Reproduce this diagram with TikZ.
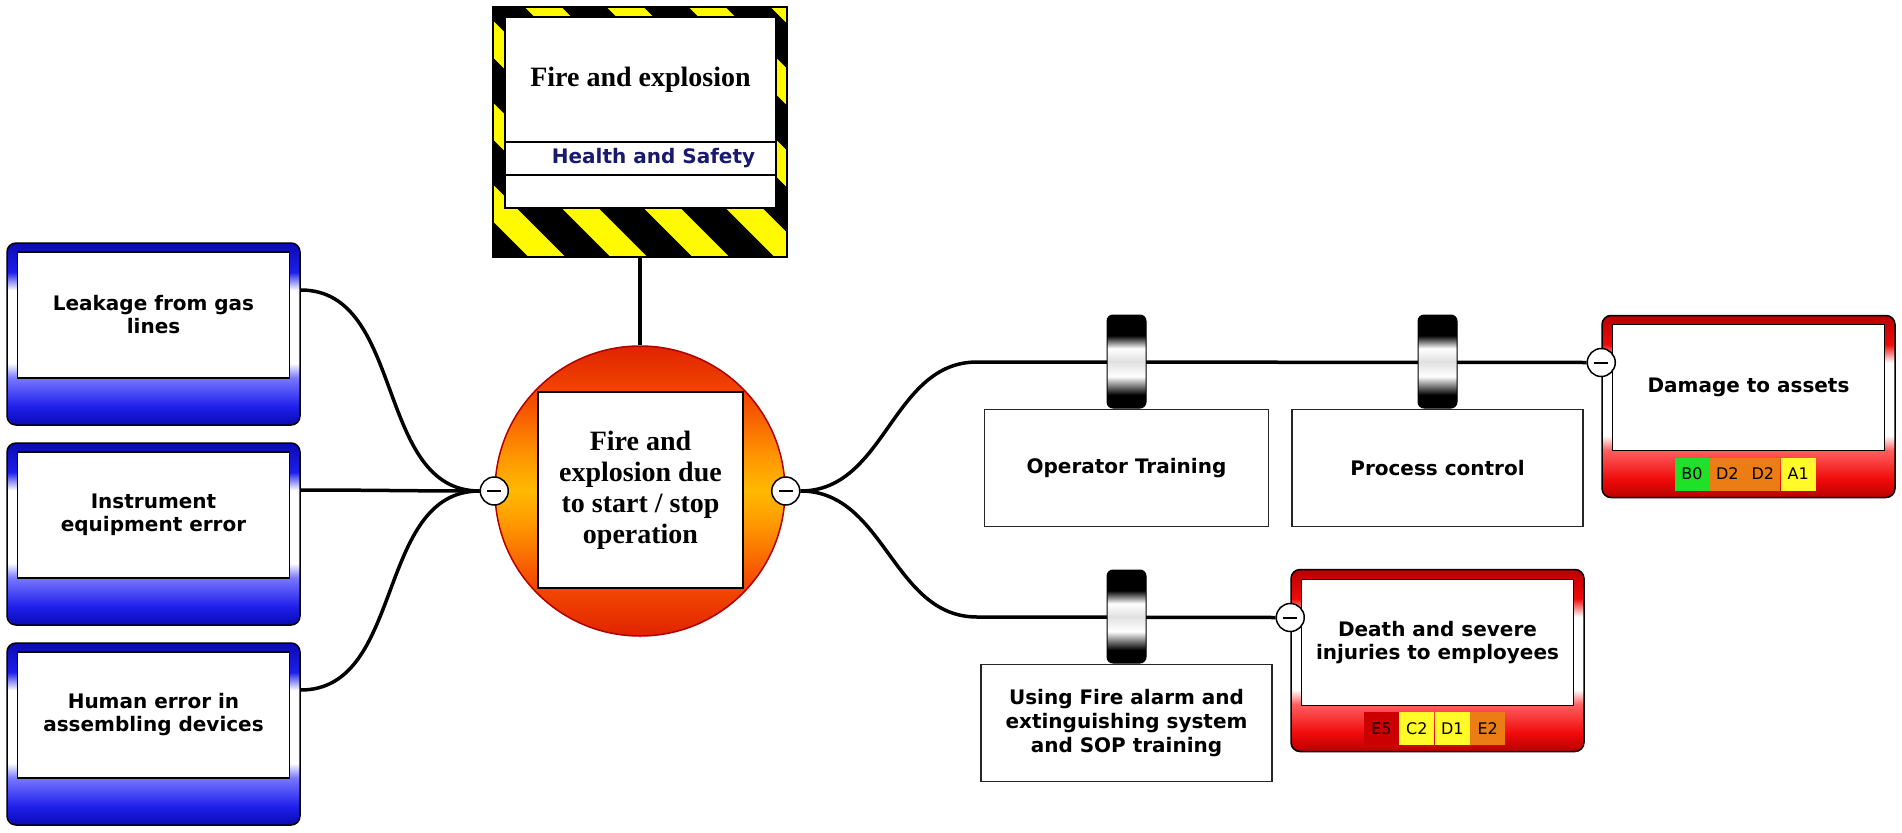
\documentclass[tikz,border=0pt]{standalone}
\usepackage{fontspec}
\usepackage{tikz}
\usetikzlibrary{positioning}

\newfontfamily\labelfont{DejaVu Sans}
\newfontfamily\headfont{Liberation Serif}

\definecolor{hsnavy}{RGB}{25,25,110}
\definecolor{tapeyellow}{RGB}{255,250,0}
\definecolor{rkgreen}{RGB}{30,225,40}
\definecolor{rkorange}{RGB}{235,125,20}
\definecolor{rkyellow}{RGB}{255,250,40}
\definecolor{rkred}{RGB}{205,0,0}
\definecolor{bxdark}{RGB}{10,10,180}
\definecolor{bxmid}{RGB}{30,30,235}
\definecolor{bxlight}{RGB}{120,120,255}
\definecolor{rxdark}{RGB}{185,0,0}
\definecolor{rxmid}{RGB}{240,10,10}
\definecolor{rxlight}{RGB}{255,95,95}
\definecolor{fbred}{RGB}{225,35,0}
\definecolor{fbmid}{RGB}{245,80,0}
\definecolor{fborange}{RGB}{255,150,0}
\definecolor{fbyellow}{RGB}{255,185,0}

\pgfdeclareverticalshading{bluebox}{100bp}{color(0bp)=(bxdark); color(25bp)=(bxdark);
  color(30bp)=(bxmid); color(38bp)=(bxlight); color(42bp)=(white); color(62bp)=(white);
  color(67bp)=(bxmid); color(75bp)=(bxdark); color(100bp)=(bxdark)}
\pgfdeclareverticalshading{redbox}{100bp}{color(0bp)=(rxdark); color(25bp)=(rxdark);
  color(30bp)=(rxmid); color(38bp)=(rxlight); color(42bp)=(white); color(62bp)=(white);
  color(67bp)=(rxmid); color(75bp)=(rxdark); color(100bp)=(rxdark)}
\pgfdeclareverticalshading{fireball}{100bp}{color(0bp)=(fbred); color(25bp)=(fbred);
  color(35bp)=(fbmid); color(44bp)=(fborange); color(50bp)=(fbyellow); color(56bp)=(fborange);
  color(65bp)=(fbmid); color(75bp)=(fbred); color(100bp)=(fbred)}
\pgfdeclareverticalshading{ringshade}{100bp}{color(0bp)=(black); color(32bp)=(black);
  color(42bp)=(white); color(50bp)=(black!12); color(57bp)=(white);
  color(64bp)=(black); color(100bp)=(black)}

\pgfdeclarelayer{background}
\pgfsetlayers{background,main}

\tikzset{
  link/.style={line width=3.5pt, black},
  cardbg/.style={rectangle, rounded corners=9pt, draw=black, line width=1.5pt,
    minimum width=293pt, minimum height=182pt, inner sep=0pt, shade, shading=bluebox},
  conseqbg/.style={cardbg, shading=redbox},
  cardtext/.style={rectangle, draw=black, line width=1.5pt, fill=white,
    minimum width=272pt, minimum height=126pt, inner sep=0pt, align=center,
    font=\labelfont\bfseries\fontsize{20}{23}\selectfont},
  ctrlbox/.style={rectangle, draw=black!85, line width=1.5pt, fill=white,
    minimum width=291pt, minimum height=117pt, inner sep=0pt, align=center,
    font=\labelfont\bfseries\fontsize{20}{24}\selectfont},
  barrier/.style={rectangle, rounded corners=6pt, draw=black, line width=1pt,
    minimum width=39pt, minimum height=93pt, inner sep=0pt, shade, shading=ringshade},
  minusknob/.style={circle, draw=black, fill=white, line width=1.5pt,
    minimum size=28pt, inner sep=0pt,
    path picture={\draw[line width=2pt] ([xshift=-7pt]path picture bounding box.center)
      -- ([xshift=7pt]path picture bounding box.center);}},
  badge/.style={rectangle, minimum width=35pt, minimum height=33pt, inner sep=0pt,
    font=\labelfont\fontsize{16}{16}\selectfont},
  hzcell/.style={rectangle, fill=white, draw=black, line width=1.2pt,
    minimum width=271pt, inner sep=0pt},
}

\begin{document}
\begin{tikzpicture}[x=1pt, y=1pt]
    \useasboundingbox (0,0) rectangle (1902,-832);

    % Hazard sign
    \node[rectangle, fill=black, minimum width=294pt, minimum height=250pt, inner sep=0pt] (hazard) at (640,-132) {};
    \begin{scope}
      \clip (hazard.south west) rectangle (hazard.north east);
      \foreach \k in {-3,...,5}
        \draw[tapeyellow, line width=26pt] (322+82*\k,50) -- ++(400,-400);
    \end{scope}
    \draw[line width=1.5pt] (hazard.south west) rectangle (hazard.north east);
    \node[hzcell, minimum height=125pt, font=\headfont\bfseries\fontsize{28}{31}\selectfont] (hazT) at (640.5,-79.5) {Fire and explosion};
    \node[hzcell, minimum height=33pt, text=hsnavy, font=\labelfont\bfseries\fontsize{20}{23}\selectfont] (hzband) at (640.5,-158.5) {\hspace*{26pt}Health and Safety};
    \node[hzcell, minimum height=33pt] (hzfoot) at (640.5,-191.5) {};

    % Top event
    \node[circle, minimum size=290pt, inner sep=0pt, draw=red!70!black, line width=1.5pt, shade, shading=fireball] (event) at (640,-491) {};
    \node[rectangle, fill=white, draw=black, line width=1.5pt, minimum width=205pt, minimum height=196pt, inner sep=0pt, align=center,
      font=\headfont\bfseries\fontsize{28}{31}\selectfont] (eventT) at (640.5,-490) {Fire and\\explosion due\\to start / stop\\operation};
    \node[minusknob] (mL) at (event.west) {};
    \node[minusknob] (mR) at (event.east) {};

    % Threats
    \foreach \n/\y/\txt in {1/-334/{Leakage from gas\\lines}, 2/-534/{Instrument\\equipment error}, 3/-734/{Human error in\\assembling devices}} {
      \node[cardbg] (cause\n) at (153.5,\y) {};
      \node[cardtext] (cause\n txt) at ([yshift=19pt]cause\n.center) {\txt};
    }

    % Consequences
    \node[conseqbg] (dmg) at (1748.5,-406.5) {};
    \node[cardtext] (dmgtxt) at ([yshift=19pt]dmg.center) {Damage to assets};
    \node[minusknob] (mD) at ([yshift=44pt]dmg.west) {};
    \node[conseqbg] (inj) at (1437.5,-660.5) {};
    \node[cardtext] (injtxt) at ([yshift=18pt]inj.center) {Death and severe\\injuries to employees};
    \node[minusknob] (mI) at ([yshift=43pt]inj.west) {};

    % Risk ratings
    \node[badge, fill=rkgreen] (b1) at (1692,-474) {B0};
    \node[badge, fill=rkorange, right=0pt of b1] (b2) {D2};
    \node[badge, fill=rkorange, right=0pt of b2] (b3) {D2};
    \node[badge, fill=rkyellow, right=0pt of b3] (b4) {A1};
    \node[badge, fill=rkred] (e1) at (1381.5,-728.5) {E5};
    \node[badge, fill=rkyellow, right=0pt of e1] (e2) {C2};
    \node[badge, fill=rkyellow, right=0pt of e2] (e3) {D1};
    \node[badge, fill=rkorange, right=0pt of e3] (e4) {E2};

    % Barriers
    \coordinate (bendA) at (977,-362);
    \coordinate (bendB) at (977,-617);
    \node[barrier] (ring1) at (1126.5,-361.5) {};
    \node[barrier] (ring2) at (1437.5,-361.5) {};
    \node[barrier] (ring3) at (1126.5,-616.5) {};
    \node[ctrlbox, minimum width=284pt, below=0pt of ring1] (train) {Operator Training};
    \node[ctrlbox, below=0pt of ring2] (proc) {Process control};
    \node[ctrlbox, below=0pt of ring3] (alarm) {Using Fire alarm and\\extinguishing system\\and SOP training};

    % Connectors
    \begin{pgfonlayer}{background}
      \fill[white] (0,0) rectangle (1902,-832);
      \foreach \n in {1,2,3}
        \draw[link] ([yshift=44pt]cause\n.east) to[out=0,in=180] (mL.west);
      \draw[link] (hazard.south) -- (event.north);
      \draw[link] (mR.east) to[out=0,in=180] (bendA) -- (mD.west);
      \draw[link] (mR.east) to[out=0,in=180] (bendB) -- (mI.west);
    \end{pgfonlayer}
\end{tikzpicture}
\end{document}
